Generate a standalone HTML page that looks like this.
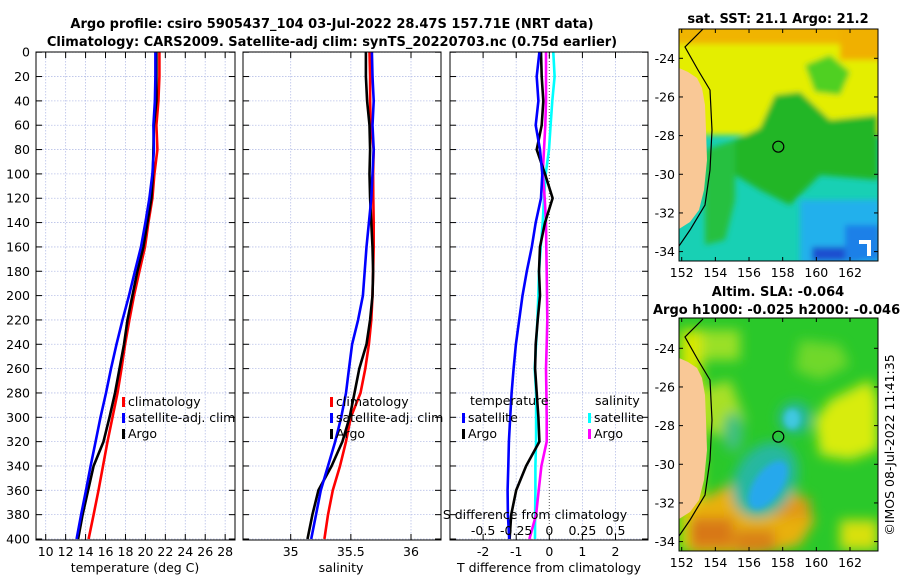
<!DOCTYPE html>
<html><head><meta charset="utf-8"><style>
html,body{margin:0;padding:0;background:#fff;width:900px;height:580px;overflow:hidden}
svg{display:block;font-family:"DejaVu Sans","Liberation Sans",sans-serif}
</style></head><body>
<svg id="fig" width="900" height="580" viewBox="0 0 900 580">
<defs>
<filter id="blur3" x="-20%" y="-20%" width="140%" height="140%"><feGaussianBlur stdDeviation="3"/></filter>
<filter id="blur6" x="-20%" y="-20%" width="140%" height="140%"><feGaussianBlur stdDeviation="6"/></filter>
<clipPath id="clipMap1"><rect x="679" y="29" width="199" height="232"/></clipPath>
<clipPath id="clipMap2"><rect x="679" y="318" width="199" height="233"/></clipPath>
</defs>
<text x="332" y="28" font-size="13" font-weight="bold" text-anchor="middle">Argo profile: csiro 5905437_104 03-Jul-2022 28.47S 157.71E (NRT data)</text>
<text x="332" y="46" font-size="13" font-weight="bold" text-anchor="middle">Climatology: CARS2009. Satellite-adj clim: synTS_20220703.nc (0.75d earlier)</text>

<!-- SST map -->
<g>
<g clip-path="url(#clipMap1)">
<rect x="679" y="29" width="199" height="232" fill="#18d0b4"/>
<g filter="url(#blur3)">
<rect x="670" y="20" width="220" height="115" fill="#e4ee00"/>
<rect x="670" y="20" width="220" height="24" fill="#f0b400"/>
<rect x="840" y="20" width="50" height="40" fill="#f0b000"/>
<polygon points="735,140 760,128 775,95 800,92 830,120 878,115 878,180 820,175 790,205 760,190 735,175" fill="#22b628"/>
<polygon points="805,65 830,55 850,72 840,95 815,92" fill="#50d020"/>
<polygon points="705,150 735,140 735,200 725,240 705,245" fill="#26c040"/>
<rect x="800" y="200" width="80" height="65" fill="#22b0ec"/>
<rect x="812" y="247" width="48" height="14" fill="#1a50d0"/>
<rect x="845" y="225" width="35" height="35" fill="#1a80e8"/>
</g>
<rect x="859" y="240" width="12" height="4" fill="#fff"/><rect x="867" y="244" width="4" height="12" fill="#fff"/>
<polygon points="679,68 688,72 697,78 702,88 705,105 706,130 707,160 704,190 699,210 690,222 679,229" fill="#f9c896"/>
<polyline points="703,29 685,47 698,70 710,90 712,130 710,170 705,205 690,230 679,246" fill="none" stroke="#000" stroke-width="1.2"/>
<circle cx="778.3" cy="146.7" r="5.5" fill="none" stroke="#000" stroke-width="1.2"/>
</g>
<rect x="679" y="29" width="199" height="232" fill="none" stroke="#000" stroke-width="1"/>
</g>
<text x="778" y="23" font-size="13" font-weight="bold" text-anchor="middle">sat. SST: 21.1 Argo: 21.2</text>

<!-- SLA map -->
<g>
<g clip-path="url(#clipMap2)">
<rect x="679" y="318" width="199" height="233" fill="#2ac82a"/>
<g filter="url(#blur6)">
<rect x="700" y="330" width="40" height="30" fill="#9ae028"/>
<rect x="680" y="330" width="22" height="220" fill="#d8e800"/>
<polygon points="700,390 730,380 745,420 730,440 705,430" fill="#a8e028"/>
<polygon points="830,400 870,380 878,400 878,450 850,460 820,455 815,420" fill="#d8ec10"/>
<polygon points="795,370 800,340 840,345 850,365 820,380" fill="#70d82a"/>
<polygon points="690,505 730,485 770,478 800,495 815,520 800,545 760,555 690,555" fill="#e8b010"/>
<rect x="688" y="518" width="45" height="30" fill="#d87818"/>
<rect x="735" y="530" width="40" height="22" fill="#d88018"/>
<rect x="775" y="498" width="35" height="20" fill="#e09818"/>
<rect x="840" y="520" width="38" height="30" fill="#d8e010"/>
<ellipse cx="765" cy="480" rx="30" ry="40" fill="#28b8a0" transform="rotate(30 765 480)"/>
<ellipse cx="795" cy="418" rx="16" ry="16" fill="#28b8a0"/>
<ellipse cx="733" cy="432" rx="10" ry="20" fill="#40c080"/>
</g>
<g filter="url(#blur3)">
<ellipse cx="768" cy="485" rx="14" ry="28" fill="#28a8ec" transform="rotate(35 768 485)"/>
<ellipse cx="792" cy="419" rx="8" ry="10" fill="#40c8e0"/>
</g>
<g transform="translate(0,290)">
<polygon points="679,68 688,72 697,78 702,88 705,105 706,130 707,160 704,190 699,210 690,222 679,229" fill="#f9c896"/>
<polyline points="703,29 685,47 698,70 710,90 712,130 710,170 705,205 690,230 679,246" fill="none" stroke="#000" stroke-width="1.2"/>
</g>
<circle cx="778.3" cy="436.7" r="5.5" fill="none" stroke="#000" stroke-width="1.2"/>
</g>
<rect x="679" y="318" width="199" height="233" fill="none" stroke="#000" stroke-width="1"/>
</g>
<text x="778" y="296" font-size="13" font-weight="bold" text-anchor="middle">Altim. SLA: -0.064</text>
<text x="653" y="314" font-size="13" font-weight="bold">Argo h1000: -0.025 h2000: -0.046</text>
<text transform="translate(894,445) rotate(-90)" font-size="12.5" text-anchor="middle">©IMOS 08-Jul-2022 11:41:35</text>
<g id="dyn"></g>
</svg>
<script>
const depths = [0,20,40,60,80,100,120,140,160,180,200,220,240,260,280,300,320,340,360,380,400];
const tempClim = [21.4,21.4,21.3,21.1,21.2,20.9,20.7,20.3,19.96,19.4,18.86,18.4,17.96,17.6,17.2,16.7,16.2,15.75,15.3,14.8,14.3];
const tempSat = [21.0,21.0,20.95,20.8,20.85,20.7,20.4,20.0,19.56,18.95,18.36,17.7,17.1,16.55,16.05,15.5,15.0,14.5,14.04,13.55,13.1];
const tempArgo = [21.1,21.1,21.1,20.85,20.8,20.75,20.6,20.2,19.8,19.2,18.7,18.2,17.85,17.4,16.95,16.4,15.8,14.8,14.25,13.7,13.25];
const salClim = [35.655,35.66,35.66,35.665,35.69,35.685,35.687,35.69,35.69,35.685,35.68,35.67,35.65,35.62,35.58,35.5,35.46,35.41,35.35,35.31,35.28];
const salSat = [35.675,35.68,35.69,35.68,35.69,35.68,35.67,35.65,35.63,35.615,35.6,35.56,35.51,35.485,35.46,35.42,35.37,35.31,35.25,35.21,35.17];
const salArgo = [35.625,35.625,35.635,35.655,35.66,35.655,35.66,35.67,35.68,35.685,35.68,35.66,35.63,35.57,35.53,35.49,35.43,35.34,35.23,35.18,35.14];
const tDiffSat = [-0.30,-0.38,-0.33,-0.41,-0.28,-0.21,-0.25,-0.41,-0.53,-0.68,-0.81,-0.91,-1.01,-1.08,-1.14,-1.18,-1.22,-1.24,-1.26,-1.25,-1.21];
const tDiffArgo = [-0.25,-0.23,-0.18,-0.23,-0.38,-0.13,0.1,-0.13,-0.28,-0.31,-0.28,-0.35,-0.41,-0.43,-0.38,-0.33,-0.30,-0.70,-1.0,-1.15,-1.2];
const sDiffSat = [0.03,0.04,0.023,0.01,-0.002,-0.027,-0.04,-0.05,-0.065,-0.078,-0.083,-0.09,-0.1,-0.11,-0.1,-0.1,-0.1,-0.105,-0.105,-0.107,-0.108];
const sDiffArgo = [-0.025,-0.025,-0.025,-0.03,-0.04,-0.05,-0.035,-0.025,-0.023,-0.02,-0.017,-0.015,-0.02,-0.025,-0.022,-0.02,-0.02,-0.06,-0.08,-0.1,-0.15];
const depthTicks = [0,20,40,60,80,100,120,140,160,180,200,220,240,260,280,300,320,340,360,380,400];
const tempTicks = [10,12,14,16,18,20,22,24,26,28];
const salTicks = [35,35.5,36];
const tDiffTicks = [-2,-1,0,1,2];
const sDiffTicks = [-0.5,-0.25,0,0.25,0.5];
const lonTicks = [152,154,156,158,160,162];
const latTicks = [-24,-26,-28,-30,-32,-34];

const NS='http://www.w3.org/2000/svg';
const root=document.getElementById('dyn');
function mk(tag,attrs,parent){const e=document.createElementNS(NS,tag);for(const k in attrs)e.setAttribute(k,attrs[k]);(parent||root).appendChild(e);return e;}
const yD = d => 52.2 + d*1.217;
const xT = t => 45.7 + (t-10)*9.97;
const xS = s => 290.7 + (s-35)*120.3;
const xTD = v => 549.3 + v*33.1;
const xSD = v => 549.3 + v*132.4;
const panels=[{x0:36,x1:235,name:'temperature-panel'},{x0:243,x1:441,name:'salinity-panel'},{x0:450,x1:648,name:'difference-panel'}];
const Y0=52,Y1=540;
function panelFrame(p,xs,xf){
  const g=mk('g',{});
  
  
  depthTicks.forEach(d=>{mk('line',{x1:p.x0,x2:p.x1,y1:yD(d),y2:yD(d),stroke:'#b8c0e8','stroke-width':0.8,'stroke-dasharray':'1.5,1.5'},g);
    mk('line',{x1:p.x0,x2:p.x0+6,y1:yD(d),y2:yD(d),stroke:'#000'},g);mk('line',{x1:p.x1-6,x2:p.x1,y1:yD(d),y2:yD(d),stroke:'#000'},g);});
  xs.forEach(v=>{const x=xf(v);const zero=(p.name==='difference-panel'&&v===0);
    mk('line',{x1:x,x2:x,y1:Y0,y2:Y1,stroke:zero?'#555':'#b8c0e8','stroke-width':zero?1:0.8,'stroke-dasharray':zero?'1,2':'1.5,1.5'},g);
    mk('line',{x1:x,x2:x,y1:Y0,y2:Y0+6,stroke:'#000'},g);mk('line',{x1:x,x2:x,y1:Y1-6,y2:Y1,stroke:'#000'},g);});
  return g;
}
function line(xs,vals,xf,color,name,g){
  const pts=vals.map((v,i)=>xf(v).toFixed(1)+','+yD(xs[i]).toFixed(1)).join(' ');
  const e=mk('polyline',{points:pts,fill:'none',stroke:color,'stroke-width':2.6,'stroke-linejoin':'round'},g);
  
  
}
function txt(x,y,s,attrs,name){const e=mk('text',Object.assign({x:x,y:y,'font-size':12.5},attrs||{}));e.textContent=s;
  
  return e;}
let g1=panelFrame(panels[0],tempTicks,xT);
line(depths,tempClim,xT,'#f00','temp-climatology-line',g1);
line(depths,tempArgo,xT,'#000','temp-argo-line',g1);
line(depths,tempSat,xT,'#00f','temp-satellite-line',g1);
mk('rect',{x:36,y:52,width:199,height:488,fill:'none',stroke:'#000'},g1);
depthTicks.forEach(d=>txt(30,yD(d)+4.5,String(d),{'text-anchor':'end'},'depth-tick-label'));
tempTicks.forEach(t=>txt(xT(t),556,String(t),{'text-anchor':'middle'},'temp-tick-label'));
txt(135,572,'temperature (deg C)',{'text-anchor':'middle'},'temp-axis-title');
let g2=panelFrame(panels[1],salTicks,xS);
line(depths,salClim,xS,'#f00','sal-climatology-line',g2);
line(depths,salArgo,xS,'#000','sal-argo-line',g2);
line(depths,salSat,xS,'#00f','sal-satellite-line',g2);
mk('rect',{x:243,y:52,width:198,height:488,fill:'none',stroke:'#000'},g2);
salTicks.forEach(t=>txt(xS(t),556,String(t),{'text-anchor':'middle'},'sal-tick-label'));
txt(341,572,'salinity',{'text-anchor':'middle'},'sal-axis-title');
let g3=panelFrame(panels[2],tDiffTicks,xTD);
line(depths,sDiffSat,xSD,'#0ff','sdiff-satellite-line',g3);
line(depths,sDiffArgo,xSD,'#f0f','sdiff-argo-line',g3);
line(depths,tDiffArgo,xTD,'#000','tdiff-argo-line',g3);
line(depths,tDiffSat,xTD,'#00f','tdiff-satellite-line',g3);
mk('rect',{x:450,y:52,width:198,height:488,fill:'none',stroke:'#000'},g3);
tDiffTicks.forEach(t=>txt(xTD(t),556,String(t),{'text-anchor':'middle'},'tdiff-tick-label'));
txt(549,572,'T difference from climatology',{'text-anchor':'middle'},'tdiff-axis-title');
txt(535,519,'S difference from climatology',{'text-anchor':'middle'},'sdiff-axis-title');
sDiffTicks.forEach(t=>txt(xSD(t),535,String(t),{'text-anchor':'middle'},'sdiff-tick-label'));
function leg(x,y,color,label){mk('rect',{x:x,y:y-9,width:3,height:10,fill:color});txt(x+6,y,label,{},'legend-entry');}
leg(122,406,'#f00','climatology');leg(122,422,'#00f','satellite-adj. clim');leg(122,438,'#000','Argo');
leg(330,406,'#f00','climatology');leg(330,422,'#00f','satellite-adj. clim');leg(330,438,'#000','Argo');
txt(470,405,'temperature',{},'legend-title-temperature');txt(595,405,'salinity',{},'legend-title-salinity');
leg(462,422,'#00f','satellite');leg(462,438,'#000','Argo');
leg(588,422,'#0ff','satellite');leg(588,438,'#f0f','Argo');
const lx = lon => 681.7 + (lon-152)*16.83;
function mapAxes(top,bot,y24,name){
  lonTicks.forEach(l=>{const x=lx(l);mk('line',{x1:x,x2:x,y1:bot-4,y2:bot,stroke:'#000'});mk('line',{x1:x,x2:x,y1:top,y2:top+4,stroke:'#000'});
    txt(x,bot+16,String(l),{'text-anchor':'middle'},name+'-lon-label');});
  latTicks.forEach(l=>{const y=y24+(-24-l)*19.33;mk('line',{x1:679,x2:683,y1:y,y2:y,stroke:'#000'});mk('line',{x1:874,x2:878,y1:y,y2:y,stroke:'#000'});
    txt(675,y+4.5,String(l),{'text-anchor':'end'},name+'-lat-label');});
}
mapAxes(29,261,58.3,'sst-map');
mapAxes(318,551,348.3,'sla-map');
</script>
</body></html>
